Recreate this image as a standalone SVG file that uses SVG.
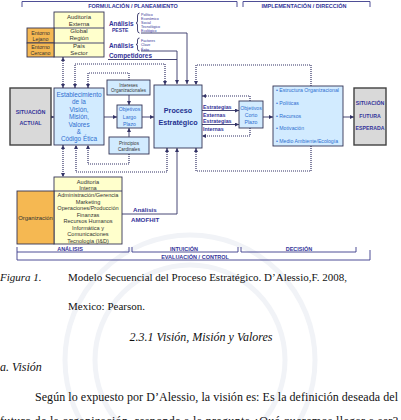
<svg xmlns="http://www.w3.org/2000/svg" width="401" height="420" viewBox="0 0 401 420">
<defs>
<style>
.s{font-family:"Liberation Sans",Arial,sans-serif;text-anchor:middle}
.l{font-family:"Liberation Sans",Arial,sans-serif}
.nb{font-weight:bold;fill:#333399}
.dk{fill:#333333}
.bl{fill:#2F6FD0}
.box{stroke:#333355;stroke-width:0.9}
.gray{fill:#D9D9D9;stroke:#404040;stroke-width:1.4}
.blue{fill:#D2EBFF}
.yel{fill:#FFFFCC}
.org{fill:#F5B852}
.ln{fill:none;stroke:#333366;stroke-width:0.9}
.dt{fill:none;stroke:#333366;stroke-width:1.2;stroke-dasharray:1 1}
.br{fill:none;stroke:#3A3A8A;stroke-width:0.9}
.cap{font-family:"Liberation Serif","Times New Roman",serif;fill:#111}
</style>
<marker id="ah" viewBox="0 0 10 10" refX="10" refY="5" markerWidth="4" markerHeight="4" markerUnits="userSpaceOnUse" orient="auto-start-reverse"><path d="M0,0 L10,5 L0,10z" fill="#333366"/></marker>
</defs>
<rect width="401" height="420" fill="#ffffff"/>
<!-- faint watermark -->
<g fill="none" stroke="#F1F3F7" stroke-width="5">
<circle cx="190" cy="360" r="125"/>
<circle cx="190" cy="360" r="95"/>
</g>
<!-- brackets -->
<g id="brackets">
<path class="br" d="M22,7 V1.5 H237 V7"/>
<text class="s nb" x="133" y="8" font-size="5.5">FORMULACIÓN / PLANEAMIENTO</text>
<path class="br" d="M243,7 V1.5 H370 V7"/>
<text class="s nb" x="304" y="8" font-size="5.5">IMPLEMENTACIÓN / DIRECCIÓN</text>
<path class="br" d="M17,247 V252 H129 V247"/>
<text class="s nb" x="70" y="251.3" font-size="5.5">ANÁLISIS</text>
<path class="br" d="M132,247 V252 H238 V247"/>
<text class="s nb" x="184" y="251.3" font-size="5.5">INTUICIÓN</text>
<path class="br" d="M241,247 V252 H356 V247"/>
<text class="s nb" x="299" y="251.3" font-size="5.5">DECISIÓN</text>
<path class="br" d="M17,252 V260 H370 V250"/>
<text class="s nb" x="195" y="259.3" font-size="5.5">EVALUACIÓN / CONTROL</text>
</g>
<!-- connectors -->
<g id="connectors">
<path class="ln" d="M141,33 H187 V84" marker-end="url(#ah)"/>
<path class="ln" d="M141,51 H177 V84" marker-end="url(#ah)"/>
<path class="ln" d="M108,59.5 H177"/>
<path class="ln" d="M51,117 H54" marker-end="url(#ah)"/>
<path class="ln" d="M104,117 H117" marker-end="url(#ah)"/>
<path class="ln" d="M129,95 V105" marker-end="url(#ah)"/>
<path class="ln" d="M129,137 V128" marker-end="url(#ah)"/>
<path class="ln" d="M142,117 H154" marker-end="url(#ah)"/>
<path class="ln" d="M202,110.5 H239" marker-end="url(#ah)"/>
<path class="ln" d="M202,124.5 H239" marker-end="url(#ah)"/>
<path class="ln" d="M263,117 H273" marker-end="url(#ah)"/>
<path class="ln" d="M343,117 H354" marker-end="url(#ah)"/>
<path class="ln" d="M122,214 H177 V148" marker-end="url(#ah)"/>
<path class="dt" d="M63,57 V88" marker-start="url(#ah)" marker-end="url(#ah)"/>
<path class="dt" d="M165,85 V64 H75 V88" marker-start="url(#ah)" marker-end="url(#ah)"/>
<path class="dt" d="M129,80 V73 H88 V88" marker-end="url(#ah)"/>
<path class="dt" d="M311,86 V65 H196 V85" marker-end="url(#ah)"/>
<path class="dt" d="M250,101 V96 H202" marker-end="url(#ah)"/>
<path class="dt" d="M250,128 V136 H202" marker-end="url(#ah)"/>
<path class="dt" d="M311,146 V171 H196 V148" marker-end="url(#ah)"/>
<path class="dt" d="M167,148 V172 H76 V145" marker-start="url(#ah)" marker-end="url(#ah)"/>
<path class="dt" d="M129,154 V164 H88 V145" marker-end="url(#ah)"/>
<path class="dt" d="M63,145 V177" marker-start="url(#ah)" marker-end="url(#ah)"/>
</g>
<!-- external audit -->
<g id="auditoria-externa">
<rect class="box yel" x="54" y="12" width="50" height="45"/>
<path class="ln" d="M54,28 H104 M54,43 H104"/>
<text class="s dk" x="79" y="19" font-size="6">Auditoría</text>
<text class="s dk" x="79" y="26" font-size="6">Externa</text>
<text class="s dk" x="79" y="33" font-size="6">Global</text>
<text class="s dk" x="79" y="40" font-size="6">Región</text>
<text class="s dk" x="79" y="48" font-size="6">País</text>
<text class="s dk" x="79" y="55" font-size="6">Sector</text>
</g>
<g id="entorno-lejano">
<rect class="box org" x="27" y="28" width="27" height="15"/>
<text class="s dk" x="40.5" y="35" font-size="5.3">Entorno</text>
<text class="s dk" x="40.5" y="41" font-size="5.3">Lejano</text>
</g>
<g id="entorno-cercano">
<rect class="box org" x="27" y="43" width="27" height="14"/>
<text class="s dk" x="40.5" y="49" font-size="5.3">Entorno</text>
<text class="s dk" x="40.5" y="55" font-size="5.3">Cercano</text>
</g>
<g id="analisis-peste">
<text class="l nb" x="109" y="26" font-size="6.4">Análisis</text>
<text class="l nb" x="112" y="32" font-size="5">PESTE</text>
<path class="ln" stroke-width="0.6" d="M139.5,13 Q137.5,13 137.5,16 V21 Q137.5,23 136,23 Q137.5,23 137.5,25 V30 Q137.5,33 139.5,33"/>
<g class="l" fill="#333399" font-size="3.6">
<text x="141" y="16">Político</text>
<text x="141" y="20">Económico</text>
<text x="141" y="24">Social</text>
<text x="141" y="28">Tecnológico</text>
<text x="141" y="32">Ecológico</text>
</g>
</g>
<g id="analisis-fce">
<text class="l nb" x="109" y="47.5" font-size="6.4">Análisis</text>
<path class="ln" stroke-width="0.6" d="M139.5,38 Q137.5,38 137.5,40 V43 Q137.5,44.5 136,44.5 Q137.5,44.5 137.5,46 V49 Q137.5,51 139.5,51"/>
<g class="l" fill="#333399" font-size="3.6">
<text x="141" y="41.5">Factores</text>
<text x="141" y="46">Clave</text>
<text x="141" y="50.5">Éxito</text>
</g>
<text class="l nb" x="109" y="58" font-size="6.4">Competidores</text>
</g>
<g id="situacion-actual">
<rect class="gray" x="10" y="88" width="41" height="57"/>
<text class="s nb" x="30.5" y="113.5" font-size="5.4">SITUACIÓN</text>
<text class="s nb" x="30.5" y="124.5" font-size="5.4">ACTUAL</text>
</g>
<g id="establecimiento">
<rect class="box blue" x="54" y="88" width="50" height="57"/>
<g class="s bl" font-size="6.4">
<text x="79" y="97">Establecimiento</text>
<text x="79" y="104">de la</text>
<text x="79" y="111.5">Visión,</text>
<text x="79" y="119">Misión,</text>
<text x="79" y="126.5">Valores</text>
<text x="79" y="134">&amp;</text>
<text x="79" y="140.5">Código Ética</text>
</g>
</g>
<g id="intereses">
<rect class="box blue" x="107" y="80" width="43" height="15"/>
<text class="s dk" x="128.5" y="86.5" font-size="4.5">Intereses</text>
<text class="s dk" x="128.5" y="92.3" font-size="4.5">Organizacionales</text>
</g>
<g id="objetivos-lp">
<rect class="box blue" x="117" y="105" width="25" height="23" stroke="#555"/>
<text class="s bl" x="129.5" y="111" font-size="5.2">Objetivos</text>
<text class="s bl" x="129.5" y="118.5" font-size="5.2">Largo</text>
<text class="s bl" x="129.5" y="125.5" font-size="5.2">Plazo</text>
</g>
<g id="principios">
<rect class="box blue" x="109" y="137" width="40" height="17"/>
<text class="s dk" x="129" y="145" font-size="4.6">Principios</text>
<text class="s dk" x="129" y="151" font-size="4.6">Cardinales</text>
</g>
<g id="proceso">
<rect class="box blue" x="154" y="85" width="48" height="63" stroke-width="1.1"/>
<text class="s" x="178" y="112.5" font-size="7.2" font-weight="bold" fill="#23318F">Proceso</text>
<text class="s" x="178" y="124.5" font-size="7.2" font-weight="bold" fill="#23318F">Estratégico</text>
</g>
<g id="estrategias">
<text class="l nb" x="203" y="109.3" font-size="5.3">Estrategias</text>
<text class="l nb" x="203" y="116.5" font-size="5.3">Externas</text>
<text class="l nb" x="203" y="123.3" font-size="5.3">Estrategias</text>
<text class="l nb" x="203" y="130.5" font-size="5.3">Internas</text>
</g>
<g id="objetivos-cp">
<rect class="box blue" x="239" y="101" width="24" height="27"/>
<text class="s bl" x="251" y="110" font-size="5.2">Objetivos</text>
<text class="s bl" x="251" y="117" font-size="5.2">Corto</text>
<text class="s bl" x="251" y="124" font-size="5.2">Plazo</text>
</g>
<g id="implementacion">
<rect class="box blue" x="273" y="86" width="70" height="60"/>
<g class="l bl" font-size="5.2">
<text x="276" y="92">• Estructura  Organizacional</text>
<text x="276" y="105">• Políticas</text>
<text x="276" y="118">• Recursos</text>
<text x="276" y="130">• Motivación</text>
<text x="276" y="143">• Medio  Ambiente/Ecología</text>
</g>
</g>
<g id="situacion-futura">
<rect class="gray" x="354" y="88" width="32" height="57"/>
<text class="s nb" x="370" y="105" font-size="5.2">SITUACIÓN</text>
<text class="s nb" x="370" y="118" font-size="5.2">FUTURA</text>
<text class="s nb" x="370" y="130" font-size="5.2">ESPERADA</text>
</g>
<g id="auditoria-interna">
<rect class="box yel" x="54" y="177" width="68" height="67"/>
<path class="ln" d="M54,191 H122"/>
<g class="s dk" font-size="5.6">
<text x="88" y="184">Auditoría</text>
<text x="88" y="190">Interna</text>
<text x="88" y="197">Administración/Gerencia</text>
<text x="88" y="203.5">Marketing</text>
<text x="88" y="210">Operaciones/Producción</text>
<text x="88" y="216.5">Finanzas</text>
<text x="88" y="223">Recursos Humanos</text>
<text x="88" y="229.5">Informática y</text>
<text x="88" y="236">Comunicaciones</text>
<text x="88" y="242.5">Tecnología (I&amp;D)</text>
</g>
</g>
<g id="organizacion">
<rect class="box org" x="17" y="191" width="37" height="53"/>
<text class="s dk" x="35.5" y="220" font-size="5.9">Organización</text>
</g>
<g id="amofhit">
<text class="l nb" x="133" y="212.3" font-size="6.2">Análisis</text>
<text class="l nb" x="131" y="221.5" font-size="6.2">AMOFHIT</text>
</g>
<!-- page text -->
<g id="page-text">
<text class="cap" x="0" y="281" font-size="11" font-style="italic">Figura 1.</text>
<text class="cap" x="68" y="281" font-size="11">Modelo Secuencial del Proceso Estratégico. D’Alessio,F. 2008,</text>
<text class="cap" x="68" y="310" font-size="11">Mexico: Pearson.</text>
<text class="cap" x="201" y="341" font-size="12" font-style="italic" text-anchor="middle">2.3.1 Visión, Misión y Valores</text>
<text class="cap" x="0" y="371" font-size="12" font-style="italic">a. Visión</text>
<text class="cap" x="35" y="401" font-size="12" textLength="363" lengthAdjust="spacing">Según lo expuesto por D’Alessio, la visión es: Es la definición deseada del</text>
<text class="cap" x="0" y="425" font-size="12" textLength="398" lengthAdjust="spacing">futuro de la organización, responde a la pregunta ¿Qué queremos llegar a ser?</text>
</g>
</svg>
